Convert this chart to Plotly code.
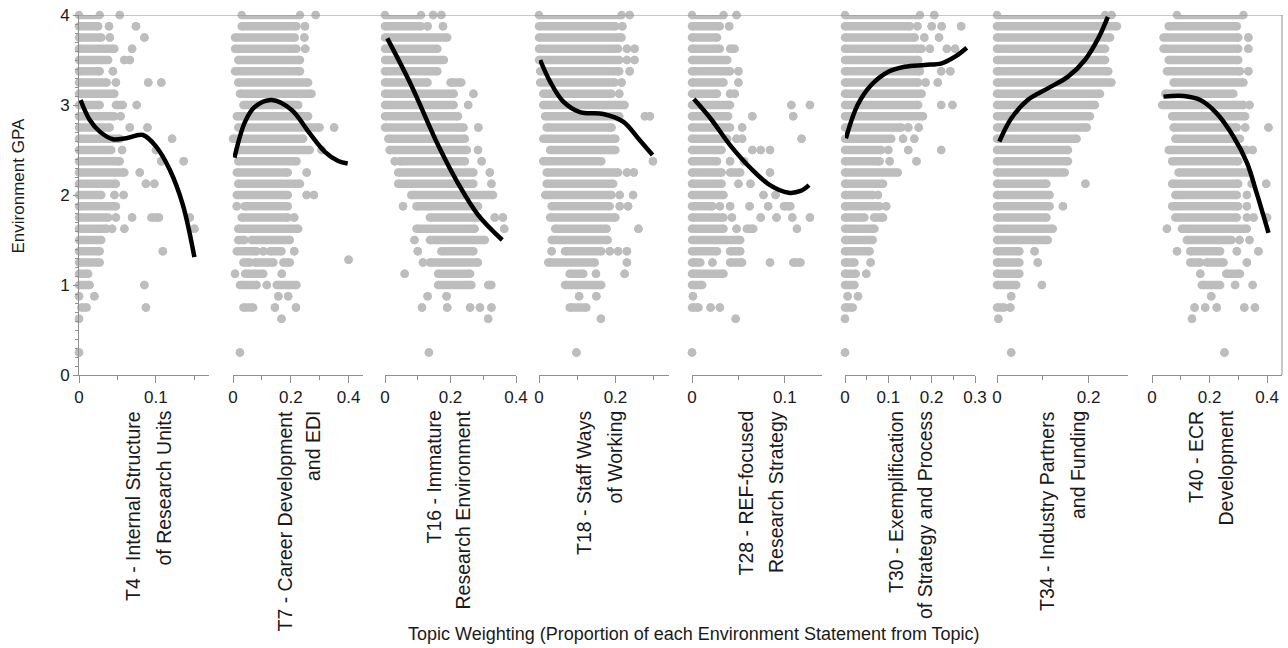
import plotly.graph_objects as go

# ---------------- data ----------------
topic_line1 = ["T4 - Internal Structure", "T7 - Career Development", "T16 - Immature",
               "T18 - Staff Ways", "T28 - REF-focused", "T30 - Exemplification",
               "T34 - Industry Partners", "T40 - ECR"]
topic_line2 = ["of Research Units", "and EDI", "Research Environment", "of Working",
               "Research Strategy", "of Strategy and Process", "and Funding", "Development"]

y_tick_vals = [0, 1, 2, 3, 4]

x_ranges = [0.169, 0.45, 0.40, 0.34, 0.14, 0.30, 0.286, 0.452]
x_tick_labels = [[0, 0.1], [0, 0.2, 0.4], [0, 0.2, 0.4], [0, 0.2], [0, 0.1],
                 [0, 0.1, 0.2, 0.3], [0, 0.2], [0, 0.2, 0.4]]
x_minor_ticks = [[0.05, 0.15], [0.1, 0.3], [0.1, 0.3], [0.1, 0.3], [0.05],
                 [0.05, 0.15, 0.25], [0.1], [0.1, 0.3]]

# scatter rows: (GPA, topic weight from, topic weight to) for runs of overlapping dots
t4_runs = [(4.0, 0, 0.027), (4.0, 0.053, 0.053),
           (3.875, 0, 0.025), (3.875, 0.039, 0.039), (3.875, 0.074, 0.074),
           (3.75, 0, 0.029), (3.75, 0.04, 0.04), (3.75, 0.085, 0.085),
           (3.625, 0, 0.046), (3.625, 0.069, 0.069),
           (3.5, 0, 0.038), (3.5, 0.059, 0.059), (3.5, 0.066, 0.066),
           (3.375, 0, 0.027), (3.375, 0.044, 0.044),
           (3.25, 0, 0.036), (3.25, 0.048, 0.048), (3.25, 0.09, 0.09), (3.25, 0.107, 0.107),
           (3.125, 0, 0.046),
           (3.0, 0, 0.027), (3.0, 0.048, 0.057), (3.0, 0.075, 0.075),
           (2.875, 0, 0.046), (2.875, 0.054, 0.054),
           (2.75, 0, 0.04), (2.75, 0.066, 0.066), (2.75, 0.089, 0.089),
           (2.625, 0, 0.053), (2.625, 0.121, 0.121),
           (2.5, 0, 0.042), (2.5, 0.056, 0.056), (2.5, 0.1, 0.1),
           (2.375, 0, 0.053), (2.375, 0.107, 0.107), (2.375, 0.136, 0.136),
           (2.25, 0, 0.059), (2.25, 0.079, 0.079),
           (2.125, 0, 0.048), (2.125, 0.087, 0.087), (2.125, 0.098, 0.098),
           (2.0, 0, 0.029), (2.0, 0.046, 0.046), (2.0, 0.058, 0.058),
           (1.875, 0, 0.048),
           (1.75, 0, 0.038), (1.75, 0.048, 0.048), (1.75, 0.069, 0.069), (1.75, 0.094, 0.104), (1.75, 0.144, 0.144),
           (1.625, 0, 0.036), (1.625, 0.043, 0.043), (1.625, 0.059, 0.059), (1.625, 0.15, 0.15),
           (1.5, 0, 0.029),
           (1.375, 0, 0.027), (1.375, 0.109, 0.109),
           (1.25, 0, 0.027),
           (1.125, 0, 0.012),
           (1.0, 0, 0.014), (1.0, 0.085, 0.085),
           (0.875, 0, 0), (0.875, 0.02, 0.02),
           (0.75, 0.003, 0.01), (0.75, 0.087, 0.087),
           (0.625, 0, 0),
           (0.25, 0, 0)]

t7_runs = [(4.0, 0.03, 0.232), (4.0, 0.286, 0.286),
           (3.875, 0.03, 0.22), (3.875, 0.249, 0.249),
           (3.75, 0.007, 0.214), (3.75, 0.247, 0.247),
           (3.625, 0.007, 0.22), (3.625, 0.25, 0.25),
           (3.5, 0.018, 0.232),
           (3.375, 0.007, 0.232),
           (3.25, 0.018, 0.26),
           (3.125, 0.024, 0.272),
           (3.0, 0.036, 0.226),
           (2.875, 0.013, 0.26),
           (2.75, 0.018, 0.30), (2.75, 0.35, 0.35),
           (2.625, 0, 0.243),
           (2.5, 0.018, 0.266), (2.5, 0.307, 0.307),
           (2.375, 0.018, 0.22),
           (2.25, 0.013, 0.19), (2.25, 0.255, 0.255),
           (2.125, 0.018, 0.232),
           (2.0, 0.013, 0.19), (2.0, 0.255, 0.255), (2.0, 0.28, 0.28),
           (1.875, 0.013, 0.013), (1.875, 0.04, 0.19),
           (1.75, 0.03, 0.19), (1.75, 0.212, 0.212),
           (1.625, 0.018, 0.226),
           (1.5, 0.018, 0.04), (1.5, 0.064, 0.197),
           (1.375, 0.013, 0.082), (1.375, 0.105, 0.105), (1.375, 0.128, 0.168), (1.375, 0.212, 0.212),
           (1.25, 0.036, 0.059), (1.25, 0.076, 0.14), (1.25, 0.174, 0.197), (1.28, 0.40, 0.40),
           (1.125, 0.007, 0.007), (1.125, 0.042, 0.105), (1.125, 0.169, 0.169),
           (1.0, 0.024, 0.082), (1.0, 0.117, 0.117), (1.0, 0.151, 0.22),
           (0.875, 0.157, 0.157), (0.875, 0.191, 0.191),
           (0.75, 0.036, 0.07), (0.75, 0.145, 0.145), (0.75, 0.218, 0.218),
           (0.625, 0.168, 0.168),
           (0.25, 0.024, 0.024)]

t16_runs = [(4.0, 0, 0.11), (4.0, 0.147, 0.147), (4.0, 0.172, 0.172),
            (3.875, 0, 0.11), (3.875, 0.13, 0.13), (3.875, 0.177, 0.177),
            (3.75, 0, 0.19),
            (3.625, 0, 0.16),
            (3.5, 0, 0.18),
            (3.375, 0, 0.16),
            (3.25, 0, 0.13), (3.25, 0.2, 0.233),
            (3.125, 0, 0.21), (3.125, 0.27, 0.27),
            (3.0, 0, 0.21), (3.0, 0.254, 0.254),
            (2.875, 0, 0.223),
            (2.75, 0, 0.24), (2.75, 0.285, 0.285),
            (2.625, 0.01, 0.244),
            (2.5, 0.014, 0.25), (2.5, 0.284, 0.284),
            (2.375, 0.03, 0.03), (2.375, 0.045, 0.244), (2.375, 0.295, 0.295),
            (2.25, 0.04, 0.27), (2.25, 0.32, 0.32),
            (2.125, 0.04, 0.27), (2.125, 0.325, 0.325),
            (2.0, 0.08, 0.33),
            (1.875, 0.055, 0.055), (1.875, 0.096, 0.284),
            (1.75, 0.137, 0.284), (1.75, 0.335, 0.335), (1.75, 0.36, 0.36),
            (1.625, 0.096, 0.274), (1.625, 0.364, 0.364),
            (1.5, 0.09, 0.09), (1.5, 0.137, 0.305),
            (1.375, 0.1, 0.1), (1.375, 0.172, 0.27),
            (1.25, 0.116, 0.116), (1.25, 0.137, 0.284),
            (1.125, 0.06, 0.06), (1.125, 0.162, 0.26),
            (1.0, 0.162, 0.264), (1.0, 0.315, 0.325),
            (0.875, 0.13, 0.13), (0.875, 0.188, 0.188),
            (0.75, 0.113, 0.113), (0.75, 0.19, 0.19), (0.75, 0.26, 0.26), (0.75, 0.29, 0.29), (0.75, 0.325, 0.325),
            (0.625, 0.315, 0.315),
            (0.25, 0.134, 0.134)]

t18_runs = [(4.0, 0, 0.216), (4.0, 0.237, 0.237),
            (3.875, 0, 0.2), (3.875, 0.218, 0.218),
            (3.75, 0, 0.216),
            (3.625, 0, 0.207), (3.625, 0.23, 0.23), (3.625, 0.25, 0.25),
            (3.5, 0, 0.21), (3.5, 0.23, 0.23), (3.5, 0.25, 0.25),
            (3.375, 0.003, 0.21), (3.375, 0.237, 0.237),
            (3.25, 0.003, 0.198), (3.25, 0.216, 0.216),
            (3.125, 0.011, 0.19), (3.125, 0.21, 0.21),
            (3.0, 0.011, 0.224),
            (2.875, 0.016, 0.21), (2.875, 0.277, 0.277), (2.875, 0.29, 0.29),
            (2.75, 0.02, 0.19),
            (2.625, 0.011, 0.2),
            (2.5, 0.029, 0.2),
            (2.375, 0.011, 0.163), (2.375, 0.298, 0.298),
            (2.25, 0.02, 0.207), (2.25, 0.23, 0.23), (2.25, 0.248, 0.248),
            (2.125, 0.02, 0.194),
            (2.0, 0.016, 0.19), (2.0, 0.211, 0.211), (2.0, 0.246, 0.246),
            (1.875, 0.033, 0.185), (1.875, 0.211, 0.211), (1.875, 0.233, 0.233),
            (1.75, 0.029, 0.2),
            (1.625, 0.042, 0.177), (1.625, 0.26, 0.26),
            (1.5, 0.033, 0.18),
            (1.375, 0.033, 0.033), (1.375, 0.068, 0.163), (1.375, 0.185, 0.185), (1.375, 0.207, 0.207), (1.375, 0.23, 0.23),
            (1.25, 0.024, 0.146), (1.25, 0.23, 0.23),
            (1.125, 0.08, 0.116), (1.125, 0.149, 0.149), (1.125, 0.224, 0.224),
            (1.0, 0.068, 0.163),
            (0.875, 0.105, 0.105), (0.875, 0.15, 0.15),
            (0.75, 0.08, 0.124),
            (0.625, 0.162, 0.162),
            (0.25, 0.098, 0.098)]

t28_runs = [(4.0, 0, 0.034), (4.0, 0.048, 0.048),
            (3.875, 0, 0.03), (3.875, 0.04, 0.04),
            (3.75, 0, 0.027),
            (3.625, 0, 0.03), (3.625, 0.041, 0.046),
            (3.5, 0, 0.038),
            (3.375, 0, 0.041), (3.375, 0.05, 0.05),
            (3.25, 0, 0.034), (3.25, 0.05, 0.05),
            (3.125, 0, 0.027), (3.125, 0.041, 0.041), (3.125, 0.046, 0.046),
            (3.0, 0, 0.041), (3.0, 0.107, 0.107), (3.0, 0.127, 0.127),
            (2.875, 0, 0.039), (2.875, 0.065, 0.065), (2.875, 0.109, 0.109),
            (2.75, 0, 0.041), (2.75, 0.054, 0.054),
            (2.625, 0, 0.038), (2.625, 0.048, 0.048), (2.625, 0.054, 0.054), (2.625, 0.118, 0.118),
            (2.5, 0, 0.032), (2.5, 0.065, 0.065), (2.5, 0.074, 0.074), (2.5, 0.084, 0.084),
            (2.375, 0, 0.027), (2.375, 0.041, 0.041), (2.375, 0.056, 0.056),
            (2.25, 0, 0.032), (2.25, 0.041, 0.052), (2.25, 0.084, 0.084),
            (2.125, 0, 0.032), (2.125, 0.05, 0.05), (2.125, 0.063, 0.063),
            (2.0, 0, 0.034), (2.0, 0.077, 0.077), (2.0, 0.09, 0.09),
            (1.875, 0, 0.022), (1.875, 0.03, 0.03), (1.875, 0.041, 0.041), (1.875, 0.062, 0.062), (1.875, 0.082, 0.082), (1.875, 0.099, 0.106),
            (1.75, 0, 0.034), (1.75, 0.043, 0.043), (1.75, 0.074, 0.074), (1.75, 0.091, 0.091), (1.75, 0.108, 0.108), (1.75, 0.127, 0.127),
            (1.625, 0, 0.034), (1.625, 0.048, 0.048), (1.625, 0.059, 0.066), (1.625, 0.113, 0.113),
            (1.5, 0, 0.038), (1.5, 0.041, 0.052),
            (1.375, 0, 0.027), (1.375, 0.041, 0.052),
            (1.25, 0, 0.009), (1.25, 0.022, 0.022), (1.25, 0.041, 0.054), (1.25, 0.084, 0.084), (1.25, 0.109, 0.117),
            (1.125, 0, 0.034),
            (1.0, 0, 0.011),
            (0.875, 0.001, 0.001),
            (0.75, 0, 0.007), (0.75, 0.02, 0.02), (0.75, 0.03, 0.03),
            (0.625, 0.047, 0.047),
            (0.25, 0, 0)]

t30_runs = [(4.0, 0, 0.173), (4.0, 0.206, 0.206),
            (3.875, 0, 0.15), (3.875, 0.167, 0.167), (3.875, 0.2, 0.2), (3.875, 0.223, 0.223), (3.875, 0.268, 0.268),
            (3.75, 0, 0.161), (3.75, 0.183, 0.183), (3.75, 0.217, 0.217),
            (3.625, 0, 0.177), (3.625, 0.196, 0.196), (3.625, 0.235, 0.235), (3.625, 0.254, 0.254),
            (3.5, 0, 0.169),
            (3.375, 0, 0.173), (3.375, 0.222, 0.222), (3.375, 0.243, 0.243),
            (3.25, 0, 0.169), (3.25, 0.186, 0.186), (3.25, 0.214, 0.214),
            (3.125, 0, 0.177),
            (3.0, 0, 0.169), (3.0, 0.222, 0.222), (3.0, 0.248, 0.248),
            (2.875, 0, 0.18),
            (2.75, 0, 0.13), (2.75, 0.146, 0.146), (2.75, 0.17, 0.17),
            (2.625, 0, 0.107), (2.625, 0.134, 0.134), (2.625, 0.16, 0.16),
            (2.5, 0, 0.084), (2.5, 0.1, 0.1), (2.5, 0.146, 0.146), (2.5, 0.222, 0.222),
            (2.375, 0, 0.08), (2.375, 0.103, 0.103), (2.375, 0.165, 0.165),
            (2.25, 0, 0.122),
            (2.125, 0, 0.088),
            (2.0, 0, 0.064), (2.0, 0.076, 0.076),
            (1.875, 0, 0.08), (1.875, 0.095, 0.095),
            (1.75, 0, 0.045), (1.75, 0.067, 0.088),
            (1.625, 0, 0.068),
            (1.5, 0, 0.064),
            (1.375, 0, 0.057),
            (1.25, 0, 0.022), (1.25, 0.059, 0.059),
            (1.125, 0, 0.025), (1.125, 0.049, 0.049),
            (1.0, 0, 0.022),
            (0.875, 0.006, 0.006), (0.875, 0.03, 0.03),
            (0.75, 0, 0.018),
            (0.625, 0, 0),
            (0.25, 0, 0)]

t34_runs = [(4.0, 0, 0.236), (4.0, 0.25, 0.25),
            (3.875, 0, 0.262),
            (3.75, 0, 0.247),
            (3.625, 0, 0.236),
            (3.5, 0, 0.236),
            (3.375, 0, 0.243),
            (3.25, 0, 0.25),
            (3.125, 0, 0.225),
            (3.0, 0, 0.214),
            (2.875, 0, 0.203),
            (2.75, 0, 0.196),
            (2.625, 0, 0.174),
            (2.5, 0, 0.155),
            (2.375, 0, 0.155),
            (2.25, 0, 0.148),
            (2.125, 0, 0.108), (2.125, 0.193, 0.193),
            (2.0, 0, 0.115),
            (1.875, 0, 0.115), (1.875, 0.144, 0.144),
            (1.75, 0, 0.108),
            (1.625, 0, 0.122),
            (1.5, 0, 0.111),
            (1.375, 0, 0.049), (1.375, 0.082, 0.082),
            (1.25, 0, 0.049), (1.25, 0.089, 0.089),
            (1.125, 0, 0.049),
            (1.0, 0, 0.042), (1.0, 0.098, 0.098),
            (0.875, 0.031, 0.031),
            (0.75, 0, 0.016), (0.75, 0.029, 0.029),
            (0.625, 0.003, 0.003),
            (0.25, 0.031, 0.031)]

t40_runs = [(4.0, 0.087, 0.318),
            (3.875, 0.058, 0.295),
            (3.75, 0.04, 0.3), (3.75, 0.335, 0.335),
            (3.625, 0.04, 0.3), (3.625, 0.335, 0.335),
            (3.5, 0.058, 0.3),
            (3.375, 0.052, 0.306), (3.375, 0.335, 0.335),
            (3.25, 0.075, 0.318),
            (3.125, 0.046, 0.283),
            (3.0, 0.035, 0.318), (3.0, 0.339, 0.339),
            (2.875, 0.07, 0.324),
            (2.75, 0.075, 0.295), (2.75, 0.324, 0.324), (2.75, 0.405, 0.405),
            (2.625, 0.081, 0.306),
            (2.5, 0.058, 0.33), (2.5, 0.35, 0.35),
            (2.375, 0.07, 0.3),
            (2.25, 0.092, 0.335),
            (2.125, 0.07, 0.3), (2.125, 0.347, 0.347), (2.125, 0.397, 0.397),
            (2.0, 0.081, 0.295), (2.0, 0.33, 0.33),
            (1.875, 0.07, 0.3), (1.875, 0.33, 0.33),
            (1.75, 0.081, 0.295), (1.75, 0.33, 0.33), (1.75, 0.353, 0.353), (1.75, 0.4, 0.4),
            (1.625, 0.052, 0.052), (1.625, 0.104, 0.33),
            (1.5, 0.121, 0.277), (1.5, 0.304, 0.304), (1.5, 0.339, 0.339),
            (1.375, 0.087, 0.087), (1.375, 0.133, 0.237), (1.375, 0.295, 0.295), (1.375, 0.37, 0.37),
            (1.25, 0.133, 0.168), (1.25, 0.19, 0.249), (1.25, 0.33, 0.33),
            (1.125, 0.168, 0.168), (1.125, 0.258, 0.306),
            (1.0, 0.173, 0.237), (1.0, 0.289, 0.289), (1.0, 0.35, 0.35),
            (0.875, 0.206, 0.206),
            (0.75, 0.148, 0.148), (0.75, 0.185, 0.185), (0.75, 0.225, 0.225), (0.75, 0.321, 0.321), (0.75, 0.358, 0.358),
            (0.625, 0.139, 0.139),
            (0.25, 0.252, 0.252)]

# fitted trend lines
t4_curve_x = [0.002, 0.014, 0.027, 0.044, 0.061, 0.083, 0.1, 0.118, 0.135, 0.15]
t4_curve_y = [3.055, 2.833, 2.704, 2.62, 2.63, 2.667, 2.54, 2.28, 1.89, 1.31]
t7_curve_x = [0.005, 0.042, 0.076, 0.134, 0.203, 0.261, 0.318, 0.364, 0.397]
t7_curve_y = [2.415, 2.815, 2.98, 3.055, 2.945, 2.704, 2.48, 2.378, 2.35]
t16_curve_x = [0.007, 0.08, 0.162, 0.223, 0.284, 0.358]
t16_curve_y = [3.74, 3.22, 2.555, 2.13, 1.78, 1.5]
t18_curve_x = [0.003, 0.029, 0.063, 0.107, 0.168, 0.22, 0.263, 0.297]
t18_curve_y = [3.5, 3.26, 3.04, 2.92, 2.9, 2.815, 2.61, 2.445]
t28_curve_x = [0.002, 0.02, 0.041, 0.063, 0.084, 0.104, 0.117, 0.126]
t28_curve_y = [3.066, 2.85, 2.555, 2.3, 2.11, 2.025, 2.045, 2.11]
t30_curve_x = [0.002, 0.029, 0.06, 0.1, 0.138, 0.184, 0.223, 0.254, 0.281]
t30_curve_y = [2.63, 3.0, 3.22, 3.37, 3.425, 3.445, 3.463, 3.537, 3.637]
t34_curve_x = [0.005, 0.031, 0.067, 0.111, 0.155, 0.192, 0.221, 0.242]
t34_curve_y = [2.593, 2.85, 3.055, 3.185, 3.315, 3.5, 3.74, 3.98]
t40_curve_x = [0.04, 0.11, 0.168, 0.225, 0.283, 0.33, 0.364, 0.405]
t40_curve_y = [3.093, 3.1, 3.055, 2.907, 2.65, 2.36, 2.02, 1.58]

all_runs = [t4_runs, t7_runs, t16_runs, t18_runs, t28_runs, t30_runs, t34_runs, t40_runs]
all_curves = [(t4_curve_x, t4_curve_y), (t7_curve_x, t7_curve_y), (t16_curve_x, t16_curve_y),
              (t18_curve_x, t18_curve_y), (t28_curve_x, t28_curve_y), (t30_curve_x, t30_curve_y),
              (t34_curve_x, t34_curve_y), (t40_curve_x, t40_curve_y)]

# ---------------- layout / styling ----------------
W, H = 1288, 648
FONT = "Liberation Sans"
AXIS_COL = "#8f8f8f"
DOT_COL = "#bdbdbd"
panel_px = [(79, 209), (233, 363), (385, 516), (539, 669), (692, 822), (845, 975), (997, 1128), (1152, 1282)]
title_px = [(133, 163), (284, 313), (433, 462), (584, 614), (745, 776), (896, 925), (1047, 1078), (1196, 1225)]
title_size = 19.5
plot_top, plot_bot = 15, 375
ydom = [(H - plot_bot) / H, (H - plot_top) / H]

fig = go.Figure()
for i, runs in enumerate(all_runs):
    xa = "x" if i == 0 else f"x{i+1}"
    xs, ys = [], []
    for (g, a, b) in runs:
        xs += [a, b, None]
        ys += [g, g, None]
    fig.add_trace(go.Scatter(x=xs, y=ys, xaxis=xa, yaxis="y", mode="lines+markers",
                             line=dict(color=DOT_COL, width=8.5),
                             marker=dict(color=DOT_COL, size=8.5),
                             cliponaxis=False, hoverinfo="skip"))
    cx, cy = all_curves[i]
    fig.add_trace(go.Scatter(x=cx, y=cy, xaxis=xa, yaxis="y", mode="lines",
                             line=dict(color="black", width=4.5, shape="spline", smoothing=1),
                             cliponaxis=False, hoverinfo="skip"))

layout = dict(width=W, height=H, margin=dict(l=0, r=0, t=0, b=0, autoexpand=False),
              paper_bgcolor="white", plot_bgcolor="white", showlegend=False,
              font=dict(family=FONT, color="#1a1a1a", size=17))

layout["yaxis"] = dict(domain=ydom, range=[0, 4], anchor="x", tickmode="array", automargin=False,
                       tickvals=y_tick_vals, ticks="outside", ticklen=5, tickcolor=AXIS_COL,
                       showline=True, linecolor=AXIS_COL, linewidth=1, showgrid=False,
                       zeroline=False, tickfont=dict(size=17),
                       minor=dict(dtick=0.1, ticks="outside", ticklen=3, tickcolor=AXIS_COL))

for i in range(8):
    key = "xaxis" if i == 0 else f"xaxis{i+1}"
    p0, p1 = panel_px[i]
    labs = x_tick_labels[i]
    layout[key] = dict(domain=[p0 / W, p1 / W], range=[0, x_ranges[i]], anchor="y", automargin=False,
                       tickmode="array", tickvals=labs,
                       ticktext=[("0" if v == 0 else f"{v:g}") for v in labs],
                       ticks="outside", ticklen=7, tickcolor=AXIS_COL,
                       showline=True, linecolor=AXIS_COL, linewidth=1, showgrid=False,
                       zeroline=False, tickfont=dict(size=17),
                       minor=dict(tickmode="array", tickvals=x_minor_ticks[i], ticks="outside",
                                  ticklen=4, tickcolor=AXIS_COL))

fig.update_layout(**layout)

# frame: top line at GPA 4 across all panels, right border on last panel
fig.add_shape(type="line", xref="paper", yref="y", x0=79 / W, x1=1282 / W, y0=4, y1=4,
              line=dict(color=AXIS_COL, width=1), layer="above")
fig.add_shape(type="line", xref="paper", yref="y", x0=1282 / W, x1=1282 / W, y0=0, y1=4,
              line=dict(color=AXIS_COL, width=1), layer="above")

# panel titles (two right-aligned rotated lines)
title_top = 409
for i in range(8):
    for j, txt in enumerate([topic_line1[i], topic_line2[i]]):
        fig.add_annotation(text=txt, xref="paper", yref="paper",
                           x=title_px[i][j] / W, y=(H - title_top) / H,
                           xanchor="center", yanchor="top", textangle=-90,
                           showarrow=False, font=dict(size=title_size, family=FONT, color="#1a1a1a"))

fig.add_annotation(text="Environment GPA", xref="paper", yref="paper", x=17.5 / W, y=(H - 186) / H,
                   xanchor="center", yanchor="middle", textangle=-90, showarrow=False,
                   font=dict(size=17, family=FONT, color="#1a1a1a"))
fig.add_annotation(text="Topic Weighting (Proportion of each Environment Statement from Topic)",
                   xref="paper", yref="paper", x=694 / W, y=(H - 634) / H,
                   xanchor="center", yanchor="middle", showarrow=False,
                   font=dict(size=18, family=FONT, color="#1a1a1a"))

fig.write_html("out.html", config={"displayModeBar": False},
               post_script="document.body.style.margin='0px';document.body.style.overflow='hidden';")
